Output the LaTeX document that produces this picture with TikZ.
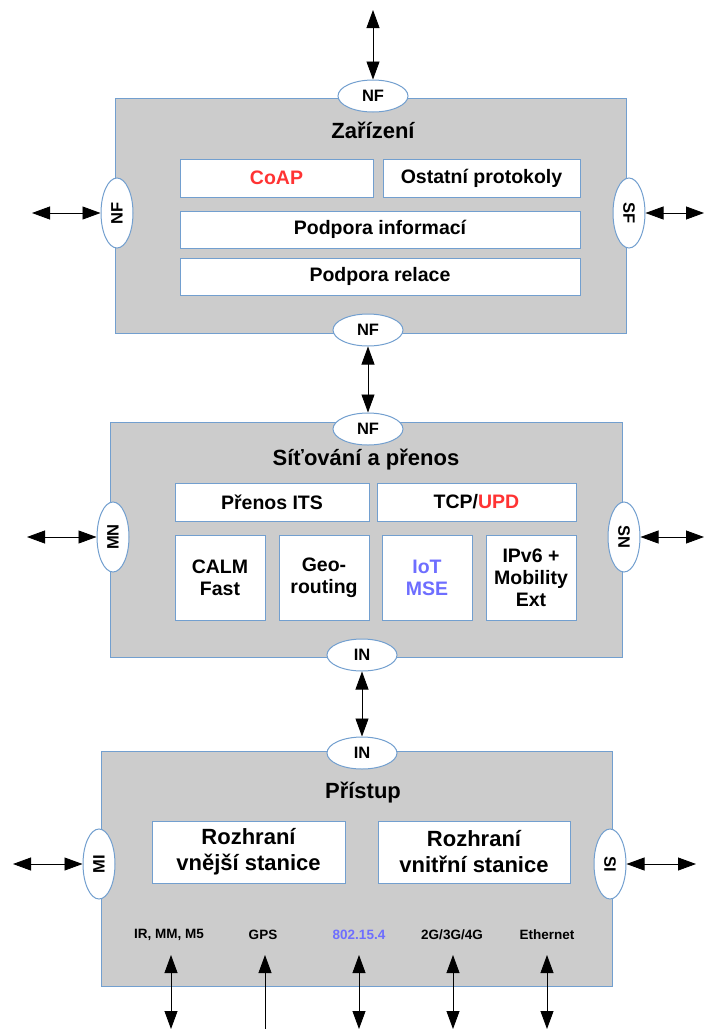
\documentclass[tikz,border=0pt]{standalone}
\usepackage{fontspec}
\setmainfont{Liberation Sans}
\usetikzlibrary{shapes.geometric, arrows.meta}
\definecolor{layergray}{RGB}{204,204,204}
\definecolor{edgeblue}{RGB}{114,159,207}
\definecolor{coapred}{RGB}{255,51,51}
\definecolor{iotblue}{RGB}{110,110,255}

\begin{document}
\begin{tikzpicture}[x=1pt, y=-1pt,
    layer/.style={draw=edgeblue, fill=layergray, line width=1pt, inner sep=0pt},
    block/.style={draw=edgeblue, fill=white, line width=1pt, inner sep=0pt, align=center, font=\bfseries\fontsize{19.5}{22}\selectfont},
    port/.style={ellipse, draw=edgeblue, fill=white, line width=1pt, minimum width=70pt, minimum height=32pt, inner sep=0pt, font=\bfseries\fontsize{16.5}{18}\selectfont},
    title/.style={font=\bfseries\fontsize{22}{26}\selectfont},
    medium/.style={font=\bfseries\fontsize{13.5}{15}\selectfont},
    link/.style={{Triangle[length=18pt,width=13pt]}-{Triangle[length=18pt,width=13pt]}, line width=0.8pt},
    uplink/.style={-{Triangle[length=18pt,width=13pt]}, line width=0.8pt}]
    \useasboundingbox (0,0) rectangle (705,1029);

    % Device layer
    \node[layer, minimum width=511pt, minimum height=235pt] (dev) at (370.5,215.5) {};
    \node[title] (devTitle) at (373,130) {Zařízení};
    \node[block, minimum width=193pt, minimum height=38pt, text=coapred] (coap) at (276.5,178) {CoAP};
    \node[block, minimum width=197pt, minimum height=38pt] (other) at (481.5,178) {Ostatní protokoly};
    \node[block, minimum width=400pt, minimum height=37pt] (info) at (380,229.5) {Podpora informací};
    \node[block, minimum width=400pt, minimum height=37pt] (sess) at (380,276.5) {Podpora relace};
    \node[port] (devTop) at (373,96) {NF};
    \node[port, rotate=90] (devLeft) at (117,213) {NF};
    \node[port, rotate=-90] (devRight) at (629,213) {SF};
    \node[port] (devBot) at (368,330) {NF};

    % Networking and transport layer
    \node[layer, minimum width=512pt, minimum height=235pt] (net) at (366,539.5) {};
    \node[title] (netTitle) at (366,460) {Síťování a přenos};
    \node[block, minimum width=194pt, minimum height=38pt] (its) at (272,502) {Přenos ITS};
    \node[block, minimum width=199pt, minimum height=38pt] (tcp) at (476.5,502) {TCP/\textcolor{coapred}{UPD}};
    \node[block, minimum width=90pt, minimum height=85pt] (calm) at (220,577.5) {CALM\\Fast};
    \node[block, minimum width=90pt, minimum height=85pt] (geo) at (324,577.5) {Geo-\\routing};
    \node[block, minimum width=90pt, minimum height=85pt, text=iotblue] (iot) at (427,577.5) {IoT\\MSE};
    \node[block, minimum width=90pt, minimum height=85pt] (ipv6) at (531,577.5) {IPv6 +\\Mobility\\Ext};
    \node[port] (netTop) at (368,429) {NF};
    \node[port, rotate=90] (netLeft) at (113,537) {MN};
    \node[port, rotate=-90] (netRight) at (624,537) {SN};
    \node[port] (netBot) at (362,655) {IN};

    % Access layer
    \node[layer, minimum width=511pt, minimum height=235pt] (acc) at (356.5,868.5) {};
    \node[title] (accTitle) at (363,793) {Přístup};
    \node[block, minimum width=193pt, minimum height=62pt, font=\bfseries\fontsize{22}{26}\selectfont] (outer) at (248.5,852) {Rozhraní\\vnější stanice};
    \node[block, minimum width=192pt, minimum height=62pt, font=\bfseries\fontsize{22}{26}\selectfont] (inner) at (474,852) {Rozhraní\\vnitřní stanice};
    \node[port] (accTop) at (362,753) {IN};
    \node[port, rotate=90] (accLeft) at (99,864) {MI};
    \node[port, rotate=-90] (accRight) at (610,864) {SI};

    % Media
    \node[medium] (ir) at (169,935) {IR, MM, M5};
    \node[medium] (gps) at (263,935) {GPS};
    \node[medium, text=iotblue] (wpan) at (359,935) {802.15.4};
    \node[medium] (cell) at (452,935) {2G/3G/4G};
    \node[medium] (eth) at (547,935) {Ethernet};

    % Free ends
    \coordinate (devUp) at (373,10);
    \coordinate (devW) at (32,213);
    \coordinate (devE) at (704,213);
    \coordinate (netW) at (27,537);
    \coordinate (netE) at (704,537);
    \coordinate (accW) at (13,864);
    \coordinate (accE) at (696,864);
    \coordinate (irTop) at (171,955);   \coordinate (irBot) at (171,1029);
    \coordinate (gpsTop) at (265,955);  \coordinate (gpsBot) at (265,1029);
    \coordinate (wpanTop) at (359,955); \coordinate (wpanBot) at (359,1029);
    \coordinate (cellTop) at (453,955); \coordinate (cellBot) at (453,1029);
    \coordinate (ethTop) at (547,955);  \coordinate (ethBot) at (547,1029);

    % Connectors
    \draw[link] (devUp) -- (devTop);
    \draw[link] (devW) -- (devLeft);
    \draw[link] (devRight) -- (devE);
    \draw[link] (devBot) -- (netTop);
    \draw[link] (netW) -- (netLeft);
    \draw[link] (netRight) -- (netE);
    \draw[link] (netBot) -- (accTop);
    \draw[link] (accW) -- (accLeft);
    \draw[link] (accRight) -- (accE);
    \draw[link] (irTop) -- (irBot);
    \draw[uplink] (gpsBot) -- (gpsTop);
    \draw[link] (wpanTop) -- (wpanBot);
    \draw[link] (cellTop) -- (cellBot);
    \draw[link] (ethTop) -- (ethBot);
\end{tikzpicture}
\end{document}
